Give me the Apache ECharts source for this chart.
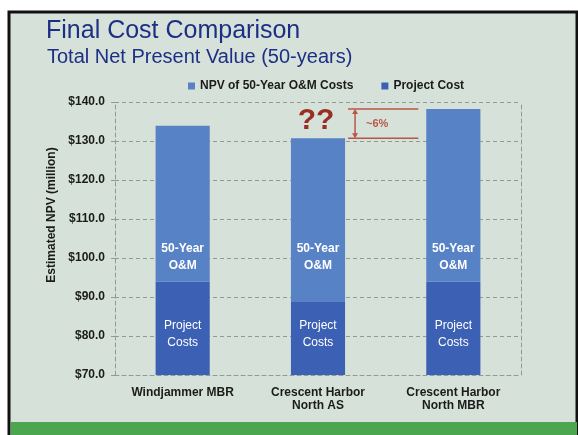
<!DOCTYPE html>
<html>
<head>
<meta charset="utf-8">
<script src="https://cdn.jsdelivr.net/npm/echarts@6/dist/echarts.min.js"></script>
<style>
  html, body { margin: 0; padding: 0; background: #fff; }
  #chart { width: 578px; height: 435px; }
</style>
</head>
<body>
<div id="chart"></div>
<script>
// chart data
const categories = ['Windjammer MBR', 'Crescent Harbor\nNorth AS', 'Crescent Harbor\nNorth MBR']
const projectCost = [93.9, 88.9, 93.9]
const omCost = [40.0, 41.8, 44.3]
const yMin = 70
const yMax = 140
const yStep = 10
const diffLabel = '~6%'

const FONT = '"Liberation Sans", Arial, sans-serif'
const darkText = '#1b1b1b'
const gridColor = '#8f9c94'
const annoColor = '#b85646'

const chart = echarts.init(document.getElementById('chart'))

const baseOption = {
  backgroundColor: '#ffffff',
  animation: false,
  textStyle: { fontFamily: FONT },
  color: ['#3c60b4', '#5782c6'],
  title: [
    {
      text: 'Final Cost Comparison',
      left: 41, top: 14,
      textStyle: { color: '#1d2f84', fontSize: 25, fontWeight: 'normal', fontFamily: FONT }
    },
    {
      text: 'Total Net Present Value (50-years)',
      left: 42, top: 42,
      textStyle: { color: '#1d2f84', fontSize: 20, fontWeight: 'normal', fontFamily: FONT }
    }
  ],
  legend: {
    data: ['NPV of 50-Year O&M Costs', 'Project Cost'],
    left: 183, top: 75,
    icon: 'rect',
    itemWidth: 7, itemHeight: 7, itemGap: 28,
    textStyle: { fontSize: 12, fontWeight: 'bold', color: darkText, fontFamily: FONT }
  },
  grid: { left: 115, right: 57, top: 102, bottom: 60 },
  xAxis: {
    type: 'category',
    data: categories,
    axisLine: { lineStyle: { color: gridColor, type: [4, 3] } },
    axisTick: { show: false },
    axisLabel: {
      color: darkText, fontSize: 12, fontWeight: 'bold', lineHeight: 13,
      margin: 11, interval: 0, fontFamily: FONT
    }
  },
  yAxis: [
    {
      type: 'value',
      min: yMin, max: yMax, interval: yStep,
      axisLine: { show: true, lineStyle: { color: gridColor, type: [4, 3] } },
      axisTick: { show: true, length: 4, lineStyle: { color: gridColor } },
      axisLabel: {
        color: darkText, fontSize: 12, fontWeight: 'bold', margin: 10, fontFamily: FONT,
        formatter: v => '$' + v.toFixed(1)
      },
      splitLine: { lineStyle: { color: gridColor, type: [4, 3] } }
    },
    {
      type: 'value',
      position: 'right',
      min: yMin, max: yMax, interval: yStep,
      axisLine: { show: true, lineStyle: { color: gridColor, type: [4, 3] } },
      axisTick: { show: false },
      axisLabel: { show: false },
      splitLine: { show: false }
    }
  ],
  series: [
    {
      name: 'Project Cost',
      type: 'bar',
      stack: 'total',
      barWidth: '40%',
      data: projectCost,
      label: {
        show: true,
        position: 'insideBottom',
        distance: 24,
        formatter: 'Project\nCosts',
        color: '#ffffff', fontSize: 12, lineHeight: 17, fontFamily: FONT
      }
    },
    {
      name: 'NPV of 50-Year O&M Costs',
      type: 'bar',
      stack: 'total',
      barWidth: '40%',
      data: omCost.map((v, i) => ({ value: v, label: { distance: [8, 27, 8][i] } })),
      label: {
        show: true,
        position: 'insideBottom',
        formatter: '50-Year\nO&M',
        color: '#ffffff', fontSize: 12, fontWeight: 'bold', lineHeight: 17, fontFamily: FONT
      }
    }
  ]
}

chart.setOption(baseOption)

// annotation positions come from the axes
const totals = projectCost.map((p, i) => p + omCost[i])
const xAS = chart.convertToPixel({ xAxisIndex: 0 }, categories[1])
const xMBR = chart.convertToPixel({ xAxisIndex: 0 }, categories[2])
const yAS = chart.convertToPixel({ yAxisIndex: 0 }, totals[1])
const yMBR = chart.convertToPixel({ yAxisIndex: 0 }, totals[2])
const halfBar = (xMBR - xAS) * 0.2
const bx1 = xAS + halfBar + 3
const bx2 = xMBR - halfBar - 8
const vx = xAS + halfBar + 10

chart.setOption({
  graphic: [
    // slide background
    {
      type: 'rect', z: -10, silent: true,
      shape: { x: 9, y: 12, width: 568, height: 425 },
      style: { fill: '#d6e2d9', stroke: '#111', lineWidth: 3 }
    },
    {
      type: 'rect', z: -9, silent: true,
      shape: { x: 11, y: 422, width: 566, height: 13 },
      style: { fill: '#4ba64f' }
    },
    // y axis name
    {
      type: 'text', z: 5,
      x: 52, y: 215, rotation: Math.PI / 2,
      style: {
        text: 'Estimated NPV (million)',
        fill: darkText, font: 'bold 12px ' + FONT,
        align: 'center', verticalAlign: 'middle'
      }
    },
    // question marks over the AS bar
    {
      type: 'text', z: 5,
      x: xAS - 2, y: yAS - 3,
      style: {
        text: '??', fill: '#9a2e22', font: 'bold 30px ' + FONT,
        align: 'center', verticalAlign: 'bottom'
      }
    },
    // difference bracket
    { type: 'line', z: 5, shape: { x1: bx1, y1: yMBR, x2: bx2, y2: yMBR }, style: { stroke: annoColor, lineWidth: 1.5 } },
    { type: 'line', z: 5, shape: { x1: bx1, y1: yAS, x2: bx2, y2: yAS }, style: { stroke: annoColor, lineWidth: 1.5 } },
    { type: 'line', z: 5, shape: { x1: vx, y1: yMBR + 2, x2: vx, y2: yAS - 2 }, style: { stroke: annoColor, lineWidth: 1.5 } },
    { type: 'polygon', z: 5, shape: { points: [[vx, yMBR], [vx - 3, yMBR + 5], [vx + 3, yMBR + 5]] }, style: { fill: annoColor } },
    { type: 'polygon', z: 5, shape: { points: [[vx, yAS], [vx - 3, yAS - 5], [vx + 3, yAS - 5]] }, style: { fill: annoColor } },
    {
      type: 'text', z: 5,
      x: vx + 11, y: (yAS + yMBR) / 2,
      style: {
        text: diffLabel, fill: annoColor, font: 'bold 11px ' + FONT,
        align: 'left', verticalAlign: 'middle'
      }
    }
  ]
})
</script>
</body>
</html>
